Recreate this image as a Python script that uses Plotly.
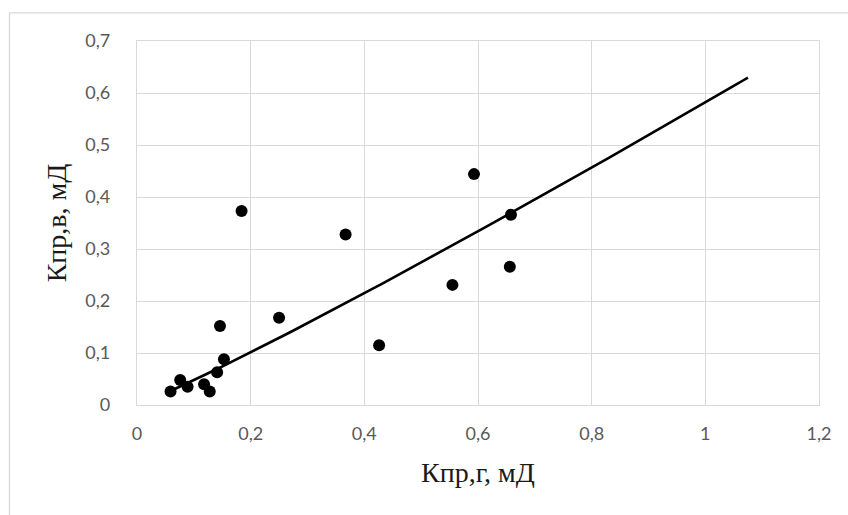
import numpy as np
import plotly.graph_objects as go

# Data
kpr_g = [0.059, 0.076, 0.089, 0.118, 0.128, 0.141, 0.146, 0.153, 0.184, 0.250,
         0.367, 0.426, 0.555, 0.593, 0.656, 0.658]
kpr_v = [0.026, 0.048, 0.035, 0.040, 0.026, 0.063, 0.152, 0.088, 0.373, 0.168,
         0.328, 0.115, 0.231, 0.444, 0.266, 0.366]

x_ticks = [0, 0.2, 0.4, 0.6, 0.8, 1.0, 1.2]
y_ticks = [0, 0.1, 0.2, 0.3, 0.4, 0.5, 0.6, 0.7]

# Power trendline y = a * x^b (coefficients read from the drawn trendline)
trend_a = 0.582
trend_b = 1.087
trend_x_end = 1.075
trend_x = np.linspace(min(kpr_g), trend_x_end, 100)
trend_y = trend_a * trend_x ** trend_b

fig = go.Figure()
fig.add_trace(go.Scatter(x=trend_x, y=trend_y, mode="lines",
                         line=dict(color="black", width=2.6), hoverinfo="skip"))
fig.add_trace(go.Scatter(x=kpr_g, y=kpr_v, mode="markers",
                         marker=dict(color="black", size=12)))

grid = "#d9d9d9"
tickfont = dict(family="Lato, Open Sans, sans-serif", size=18, color="#595959")
titlefont = dict(family="Liberation Serif, Times New Roman, serif", size=28, color="#1a1a1a")
fig.update_layout(
    width=848, height=515,
    margin=dict(l=137, r=29, t=41, b=110),
    paper_bgcolor="white", plot_bgcolor="white",
    showlegend=False,
    separators=", ",
    xaxis=dict(range=[0, 1.2], tickvals=x_ticks, showgrid=True, gridcolor=grid,
               gridwidth=1.3, zeroline=False, showline=True, mirror=True,
               linecolor=grid, linewidth=1.3, tickfont=tickfont,
               ticklabelstandoff=12,
               title=dict(text="Кпр,г, мД", font=titlefont, standoff=19)),
    yaxis=dict(range=[0, 0.7], tickvals=y_ticks, showgrid=True, gridcolor=grid,
               gridwidth=1.3, zeroline=False, showline=True, mirror=True,
               linecolor=grid, linewidth=1.3, tickfont=tickfont,
               ticklabelstandoff=22,
               title=dict(text="Кпр,в, мД", font=titlefont, standoff=10)),
    shapes=[dict(type="rect", xref="paper", yref="paper",
                 x0=-0.187, x1=1.5, y0=-0.5, y1=1.0775,
                 line=dict(color=grid, width=1.3), layer="below")],
)

fig.write_html("out.html")
